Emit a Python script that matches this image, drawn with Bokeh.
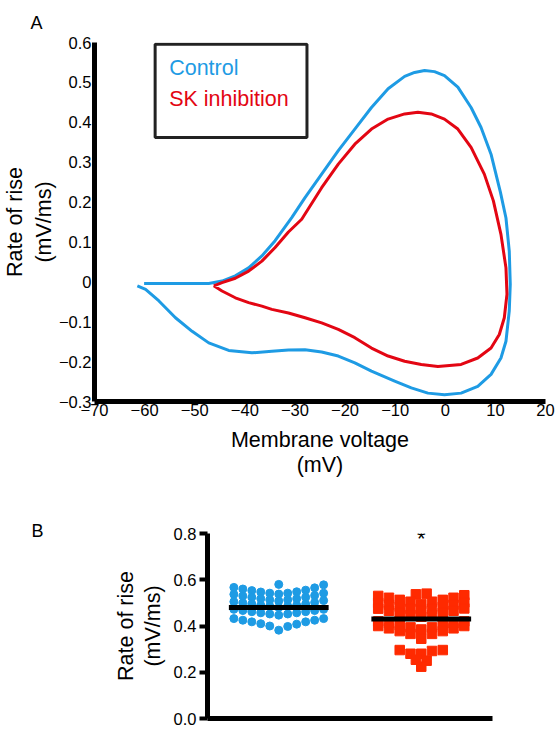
from bokeh.plotting import figure
from bokeh.models import FixedTicker, Label, BoxAnnotation, Range1d
from bokeh.embed import file_html
from bokeh.resources import INLINE

FONT = "Liberation Sans"
BLUE = "#1E9BE4"
RED = "#E30613"
BLUE_PTS = "#1E9BE4"
RED_PTS = "#FF2A00"

# ---------------- Panel A data (phase plot) ----------------
ctrl_v = [-60.1, -47.2, -44.55, -41.9, -39.24, -36.6, -33.96, -30.64, -27.99, -24.67,
          -21.35, -18.05, -14.73, -11.41, -8.11, -6.12, -4.13, -2.15, -0.16, 2.51,
          5.15, 7.14, 9.13, 11.0, 12.11, 12.77, 12.97, 12.77, 12.11, 11.11, 9.13,
          6.48, 3.16, -0.16, -3.46, -6.78, -10.1, -14.73, -18.05, -21.35, -24.67,
          -27.99, -31.29, -34.61, -38.59, -43.22, -47.2, -50.52, -53.84, -57.14,
          -59.8, -61.45]
ctrl_r = [-0.004, -0.004, 0.002, 0.015, 0.035, 0.065, 0.103, 0.161, 0.211, 0.27,
          0.329, 0.383, 0.437, 0.484, 0.515, 0.525, 0.53, 0.527, 0.517, 0.488,
          0.437, 0.387, 0.32, 0.225, 0.16, 0.077, -0.006, -0.073, -0.149, -0.191,
          -0.232, -0.262, -0.279, -0.283, -0.279, -0.266, -0.249, -0.224, -0.203,
          -0.186, -0.176, -0.17, -0.171, -0.174, -0.178, -0.172, -0.153, -0.124,
          -0.09, -0.048, -0.019, -0.01]

sk_v = [-46.2, -44.55, -41.9, -39.24, -36.6, -33.96, -31.3, -28.65, -24.67, -21.35,
        -18.05, -14.73, -11.41, -8.11, -5.46, -2.8, -0.16, 2.51, 5.15, 7.79, 9.6,
        11.11, 12.11, 12.31, 11.78, 10.78, 9.13, 6.48, 3.16, -1.47, -4.79, -8.11,
        -11.41, -14.73, -18.05, -21.35, -24.67, -27.99, -31.29, -34.61, -36.6,
        -39.24, -41.9, -44.55, -46.2]
sk_r = [-0.01, -0.002, 0.009, 0.027, 0.052, 0.086, 0.125, 0.157, 0.236, 0.295,
        0.345, 0.383, 0.408, 0.421, 0.425, 0.421, 0.408, 0.383, 0.337, 0.27, 0.203,
        0.119, 0.035, -0.031, -0.09, -0.132, -0.166, -0.191, -0.207, -0.212, -0.207,
        -0.199, -0.186, -0.166, -0.14, -0.119, -0.103, -0.09, -0.078, -0.069,
        -0.061, -0.052, -0.04, -0.023, -0.01]

xticks_a = [-70, -60, -50, -40, -30, -20, -10, 0, 10, 20]
xtick_labels_a = ["\u221270", "\u221260", "\u221250", "\u221240", "\u221230",
                  "\u221220", "\u221210", "0", "10", "20"]
yticks_a = [-0.3, -0.2, -0.1, 0, 0.1, 0.2, 0.3, 0.4, 0.5, 0.6]
ytick_labels_a = ["\u22120.3", "\u22120.2", "\u22120.1", "0", "0.1", "0.2", "0.3",
                  "0.4", "0.5", "0.6"]
series_names = ["Control", "SK inhibition"]
panel_letters = ["A", "B"]

# ---------------- Panel B data (scatter) ----------------
groups = [1, 2]
blue_rows = [
    [0.58],
    [0.567, 0.560, 0.553, 0.547, 0.542, 0.538, 0.542, 0.548, 0.555, 0.565, 0.578],
    [0.537, 0.530, 0.524, 0.518, 0.513, 0.508, 0.513, 0.518, 0.524, 0.532, 0.542],
    [0.505, 0.500, 0.495, 0.490, 0.486, 0.480, 0.486, 0.490, 0.495, 0.502, 0.510],
    [0.472, 0.467, 0.462, 0.457, 0.452, 0.447, 0.452, 0.457, 0.462, 0.467, 0.472],
    [0.432, 0.425, 0.418, 0.410, 0.400, 0.382, 0.398, 0.408, 0.418, 0.425, 0.432],
]
red_rows = [
    [0.537, 0.540],
    [0.530, 0.522, 0.513, 0.505, 0.495, 0.505, 0.513, 0.522, 0.533],
    [0.500, 0.492, 0.483, 0.474, 0.465, 0.474, 0.483, 0.492, 0.502],
    [0.475, 0.466, 0.457, 0.448, 0.440, 0.448, 0.457, 0.466, 0.476],
    [0.420, 0.412, 0.403, 0.394, 0.385, 0.394, 0.403, 0.412, 0.420],
    [0.400, 0.390, 0.378, 0.366, 0.345, 0.366, 0.378, 0.390, 0.400],
    [0.296, 0.280, 0.280, 0.292, 0.296],
    [0.254, 0.250],
    [0.224],
]
group_means = [0.48, 0.43]
yticks_b = [0.0, 0.2, 0.4, 0.6, 0.8]
ytick_labels_b = ["0.0", "0.2", "0.4", "0.6", "0.8"]
sig_marks = ["", "*"]
sig_level = 0.79


def style_axis(ax, tick_size="16.5px", title_size="21.5px"):
    ax.axis_line_width = 5
    ax.axis_line_color = "black"
    ax.major_label_text_font = FONT
    ax.major_label_text_font_size = tick_size
    ax.major_label_text_color = "black"
    ax.axis_label_text_font = FONT
    ax.axis_label_text_font_size = title_size
    ax.axis_label_text_font_style = "normal"
    ax.axis_label_text_color = "black"
    ax.minor_tick_line_color = None


def style_title(p, letter, offset, standoff):
    p.title.text = letter
    p.title.align = "left"
    p.title.offset = offset
    p.title.standoff = standoff
    p.title.text_font = FONT
    p.title.text_font_size = "18px"
    p.title.text_font_style = "normal"
    p.title.text_color = "black"


# ---------------- Figure A ----------------
pa = figure(width=555, height=479, x_range=Range1d(-70, 20), y_range=Range1d(-0.3, 0.6),
            output_backend="svg", toolbar_location=None,
            min_border_left=93, min_border_right=10, min_border_top=42, min_border_bottom=60)
pa.xgrid.visible = False
pa.ygrid.visible = False
pa.outline_line_color = None
style_title(pa, panel_letters[0], -64, 19)

pa.line(ctrl_v, ctrl_r, line_color=BLUE, line_width=3, line_join="round")
pa.line(sk_v, sk_r, line_color=RED, line_width=3, line_join="round")

style_axis(pa.xaxis[0])
style_axis(pa.yaxis[0])
pa.xaxis.ticker = FixedTicker(ticks=xticks_a)
pa.xaxis.major_label_overrides = dict(zip(xticks_a, xtick_labels_a))
pa.yaxis.ticker = FixedTicker(ticks=yticks_a)
pa.yaxis.major_label_overrides = dict(zip(yticks_a, ytick_labels_a))
pa.xaxis.major_tick_line_color = None
pa.yaxis.major_tick_line_color = None
pa.xaxis.major_tick_out = 0
pa.yaxis.major_tick_out = 0
pa.xaxis.major_label_standoff = 2
pa.yaxis.major_label_standoff = 3
pa.xaxis.axis_label = "Membrane voltage\n(mV)"
pa.yaxis.axis_label = "Rate of rise\n(mV/ms)"
pa.xaxis.axis_label_standoff = 9
pa.yaxis.axis_label_standoff = 0
pa.xaxis.axis_label_text_line_height = 1.05
pa.yaxis.axis_label_text_line_height = 1.2

# legend box
pa.add_layout(BoxAnnotation(left=-57.9, right=-27.6, top=0.5955, bottom=0.362,
                            fill_color=None, fill_alpha=0, line_color="#222222",
                            line_alpha=1.0, line_width=3))
pa.add_layout(Label(x=-55.1, y=0.537, text=series_names[0], text_color=BLUE,
                    text_font=FONT, text_font_size="21.5px", text_baseline="middle"))
pa.add_layout(Label(x=-55.1, y=0.459, text=series_names[1], text_color=RED,
                    text_font=FONT, text_font_size="21.5px", text_baseline="middle"))

# ---------------- Figure B ----------------
pb = figure(width=555, height=247, x_range=Range1d(0.5, 2.5), y_range=Range1d(0, 0.8),
            output_backend="svg", toolbar_location=None,
            min_border_left=207, min_border_right=63, min_border_top=54, min_border_bottom=8)
pb.xgrid.visible = False
pb.ygrid.visible = False
pb.outline_line_color = None
style_title(pb, panel_letters[1], -176, -14)


def swarm(rows, center, spacing):
    xs, ys = [], []
    for row in rows:
        n = len(row)
        for i, v in enumerate(row):
            xs.append(center + (i - (n - 1) / 2) * spacing)
            ys.append(v)
    return xs, ys


bx, by = swarm(blue_rows, groups[0], 0.063)
rx, ry = swarm(red_rows, groups[1], 0.0755)
pb.scatter(bx, by, marker="circle", size=8, fill_color=BLUE_PTS, line_color=BLUE_PTS)
pb.scatter(rx, ry, marker="square", size=9.5, fill_color=RED_PTS, line_color=RED_PTS)
hw = 0.35
pb.segment([g - hw for g in groups], group_means, [g + hw for g in groups], group_means,
           line_color="black", line_width=5)
pb.add_layout(Label(x=groups[1], y=sig_level, text=sig_marks[1], text_font=FONT,
                    text_font_size="22px", text_align="center", text_baseline="middle",
                    text_color="black", y_offset=-3))

style_axis(pb.xaxis[0])
style_axis(pb.yaxis[0])
pb.xaxis.ticker = FixedTicker(ticks=[])
pb.xaxis.major_tick_line_color = None
pb.yaxis.ticker = FixedTicker(ticks=yticks_b)
pb.yaxis.major_label_overrides = dict(zip(yticks_b, ytick_labels_b))
pb.yaxis.major_tick_line_width = 4
pb.yaxis.major_tick_out = 8
pb.yaxis.major_tick_in = 0
pb.yaxis.major_label_standoff = 3
pb.yaxis.axis_label = "Rate of rise\n(mV/ms)"
pb.yaxis.axis_label_standoff = 6
pb.yaxis.axis_label_text_line_height = 1.1

open("out.html", "w").write(file_html([pa, pb], INLINE))
